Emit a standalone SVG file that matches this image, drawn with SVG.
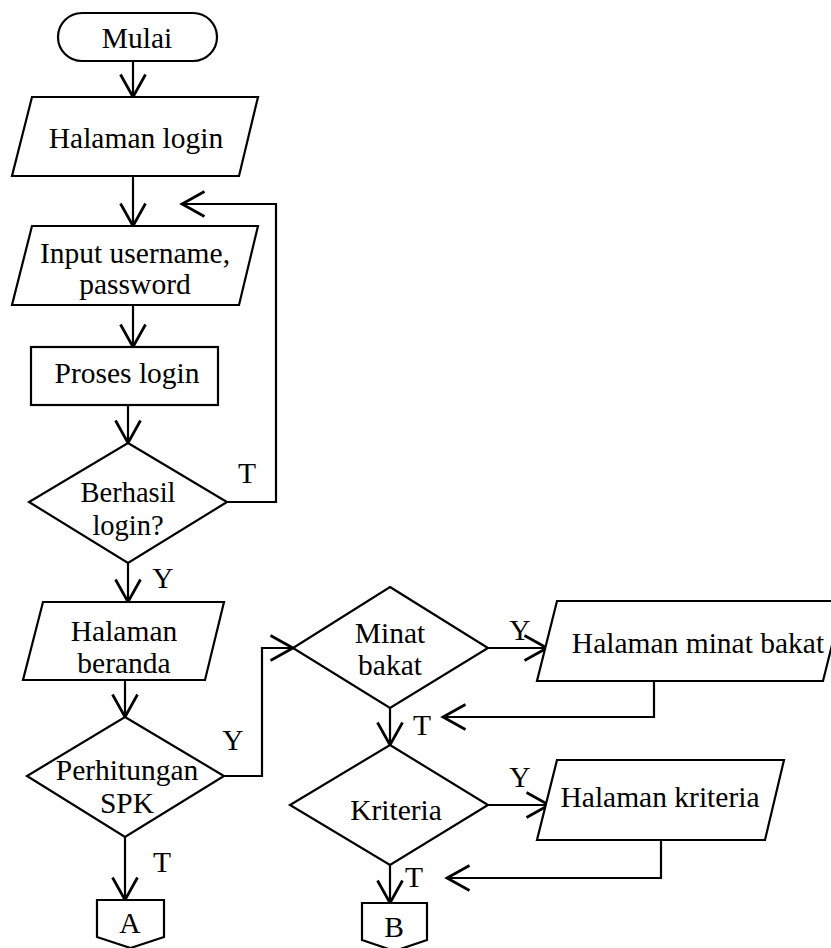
<svg xmlns="http://www.w3.org/2000/svg" width="831" height="948" viewBox="0 0 831 948">
  <style>
    .shape { fill: #ffffff; stroke: #000000; stroke-width: 2.2; stroke-linejoin: miter; }
    .line { fill: none; stroke: #000000; stroke-width: 2.2; }
    .arrow { marker-end: url(#open-arrow); }
    text { font-family: "Liberation Serif", "Times New Roman", serif; font-size: 29.5px; fill: #000000; text-anchor: middle; }
    .tight { font-size: 28.5px; }
  </style>
  <defs>
    <marker id="open-arrow" markerUnits="userSpaceOnUse" markerWidth="30" markerHeight="30" viewBox="-20 -12 22 24" refX="0" refY="0" orient="auto">
      <path d="M -18 -10 L 0 0 L -18 10" fill="none" stroke="#000000" stroke-width="2.2"/>
    </marker>
  </defs>

  <rect width="831" height="948" fill="#ffffff"/>

  <!-- connectors -->
  <g id="connectors">
    <path class="line arrow" d="M133 61 V97"/>
    <path class="line arrow" d="M133 176 V226"/>
    <path class="line arrow" d="M133 305 V347"/>
    <path class="line arrow" d="M128 405 V443"/>
    <path class="line arrow" d="M227 502 H276 V204 H182"/>
    <path class="line arrow" d="M128 563 V602"/>
    <path class="line arrow" d="M125 680 V717"/>
    <path class="line arrow" d="M224 776 H262 V648 H293"/>
    <path class="line arrow" d="M125 837 V900"/>
    <path class="line arrow" d="M488 648 H547"/>
    <path class="line arrow" d="M390 708 V745"/>
    <path class="line arrow" d="M654 681 V717 H443"/>
    <path class="line arrow" d="M488 805 H549"/>
    <path class="line arrow" d="M390 865 V903"/>
    <path class="line arrow" d="M661 840 V878 H447"/>
    <text x="247" y="483">T</text>
    <text x="163" y="588">Y</text>
    <text x="233" y="750">Y</text>
    <text x="162" y="872">T</text>
    <text x="520" y="640">Y</text>
    <text x="422" y="735">T</text>
    <text x="520" y="787">Y</text>
    <text x="414" y="887">T</text>
  </g>

  <g id="mulai">
    <rect class="shape" x="58" y="13" width="159" height="48" rx="24" ry="24"/>
    <text x="137" y="48">Mulai</text>
  </g>

  <g id="halaman-login">
    <polygon class="shape" points="32,97 258,97 239,176 12,176"/>
    <text x="136" y="148">Halaman login</text>
  </g>

  <g id="input-login">
    <polygon class="shape" points="32,226 258,226 239,305 12,305"/>
    <text x="135" y="263">Input username,</text>
    <text x="135" y="294">password</text>
  </g>

  <g id="proses-login">
    <rect class="shape" x="31" y="347" width="187" height="58"/>
    <text x="127" y="383">Proses login</text>
  </g>

  <g id="berhasil-login">
    <polygon class="shape" points="128,443 227,502 128,563 29,502"/>
    <text class="tight" x="128" y="502">Berhasil</text>
    <text class="tight" x="128" y="535">login?</text>
  </g>

  <g id="halaman-beranda">
    <polygon class="shape" points="43,602 224,602 205,680 23,680"/>
    <text x="124" y="641">Halaman</text>
    <text x="124" y="673">beranda</text>
  </g>

  <g id="perhitungan-spk">
    <polygon class="shape" points="125,717 224,776 125,837 27,776"/>
    <text x="127" y="780">Perhitungan</text>
    <text x="127" y="813">SPK</text>
  </g>

  <g id="connector-a">
    <path class="shape" d="M97 900 H164 V937 L130.5 948 L97 937 Z"/>
    <text x="130" y="933">A</text>
  </g>

  <g id="minat-bakat">
    <polygon class="shape" points="390,587 488,648 390,708 293,648"/>
    <text x="390" y="643">Minat</text>
    <text x="390" y="675">bakat</text>
  </g>

  <g id="halaman-minat-bakat">
    <polygon class="shape" points="557,601 843,601 823,681 537,681"/>
    <text x="698" y="653">Halaman minat bakat</text>
  </g>

  <g id="kriteria">
    <polygon class="shape" points="390,745 488,805 390,865 290,805"/>
    <text x="396" y="820">Kriteria</text>
  </g>

  <g id="halaman-kriteria">
    <polygon class="shape" points="557,760 784,760 765,840 537,840"/>
    <text x="660" y="807">Halaman kriteria</text>
  </g>

  <g id="connector-b">
    <path class="shape" d="M362 903 H427 V940 L394.5 951 L362 940 Z"/>
    <text x="394" y="937">B</text>
  </g>
</svg>
